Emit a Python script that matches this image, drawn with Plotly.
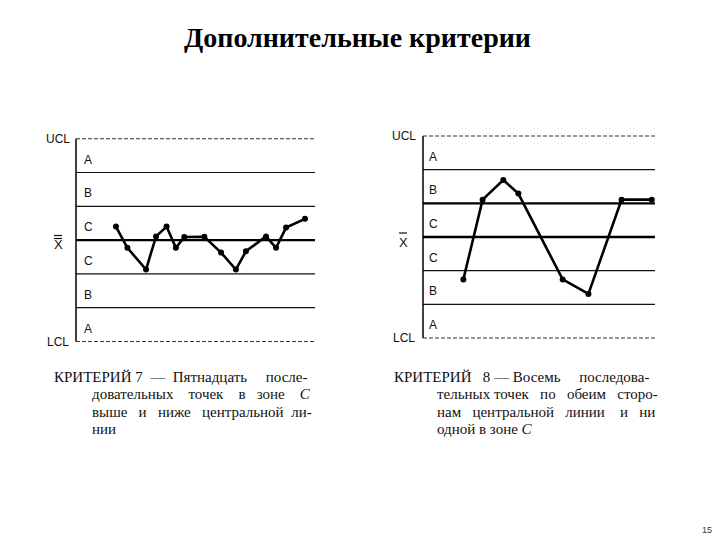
import plotly.graph_objects as go

# ---------------- data ----------------
zone_levels = [-3, -2, -1, 0, 1, 2, 3]          # LCL ... UCL in sigma units
zone_labels = ["A", "B", "C", "C", "B", "A"]     # bottom to top
zone_centers = [-2.5, -1.5, -0.5, 0.5, 1.5, 2.5]

left_x = [16.7, 21.5, 29.3, 33.5, 37.9, 41.8, 45.3, 53.7, 60.7, 66.9, 71.1, 79.5, 83.7, 87.9, 95.8]
left_y = [0.40, -0.23, -0.87, 0.11, 0.40, -0.23, 0.09, 0.10, -0.37, -0.87, -0.33, 0.11, -0.23, 0.37, 0.63]

right_x = [17.4, 25.7, 34.6, 41.1, 60.2, 71.3, 85.6, 98.6]
right_y = [-1.26, 1.11, 1.69, 1.29, -1.26, -1.69, 1.11, 1.11]

title_text = "Дополнительные критерии"
NB = "\u00a0"
left_caption = ["КРИТЕРИЙ 7" + NB + " — " + NB + "Пятнадцать " + NB * 4 + "после-",
                "довательных " + NB * 3 + "точек " + NB * 3 + "в " + NB * 2 + "зоне " + NB * 3 + "<i>C</i>",
                "выше " + NB * 2 + "и " + NB * 2 + "ниже " + NB * 2 + "центральной " + NB * 1 + "ли-",
                "нии"]
right_caption = ["КРИТЕРИЙ " + NB * 2 + "8 — Восемь " + NB * 4 + "последова-",
                 "тельных точек " + NB * 2 + "по " + NB * 2 + "обеим " + NB * 2 + "сторо-",
                 "нам " + NB * 2 + "центральной " + NB * 2 + "линии " + NB * 3 + "и " + NB * 2 + "ни",
                 "одной в зоне <i>C</i>"]
page_number = "15"

W, H = 720, 540


def px(x):
    return x / W


def py(y):
    return 1 - y / H


fig = go.Figure()

fig.add_trace(go.Scatter(x=left_x, y=left_y, mode="lines+markers",
                         line=dict(color="black", width=2.6),
                         marker=dict(color="black", size=6),
                         xaxis="x", yaxis="y", showlegend=False, hoverinfo="skip"))
fig.add_trace(go.Scatter(x=right_x, y=right_y, mode="lines+markers",
                         line=dict(color="black", width=2.6),
                         marker=dict(color="black", size=6),
                         xaxis="x2", yaxis="y2", showlegend=False, hoverinfo="skip"))

shapes = []
annotations = []

charts = [
    # axis suffix, x-domain (px), y=+3 px, y=-3 px, thick levels, label x, axis-name x,
    # centre symbol position (px) and bar positions
    ("", 76, 315, 138.7, 341.5, [0], 88, 58, (58, 244), [235.5, 238.5]),
    ("2", 423, 655, 136, 338, [0, 1], 433, 404, (403, 242), [233]),
]

ext = 3.2
for suf, xl, xr, ytop, ybot, thick, labx, namex, (sx, sy), bars in charts:
    unit = (ybot - ytop) / 6.0
    dom_top = py(ytop - (ext - 3) * unit)
    dom_bot = py(ybot + (ext - 3) * unit)
    xa = "xaxis" + suf
    ya = "yaxis" + suf
    fig.update_layout(**{
        xa: dict(domain=[px(xl), px(xr)], range=[0, 100], visible=False,
                 anchor="y" + suf),
        ya: dict(domain=[dom_bot, dom_top], range=[-ext, ext], visible=False,
                 anchor="x" + suf),
    })
    xref_d = "x" + suf + " domain"
    yref = "y" + suf
    # horizontal zone lines
    for lv in zone_levels:
        if abs(lv) == 3:
            line = dict(color="#333", width=1.1, dash="4px,2px")
        elif lv in thick:
            line = dict(color="black", width=2.4)
        else:
            line = dict(color="#111", width=1.2)
        shapes.append(dict(type="line", xref=xref_d, yref=yref, x0=0, x1=1,
                           y0=lv, y1=lv, line=line, layer="below"))
    # vertical axis line
    shapes.append(dict(type="line", xref=xref_d, yref=yref, x0=0, x1=0,
                       y0=-3, y1=3, line=dict(color="black", width=1.5)))
    # zone letters
    for lab, yc in zip(zone_labels, zone_centers):
        annotations.append(dict(text=lab, xref="paper", yref=yref, x=px(labx), y=yc,
                                xanchor="center", yanchor="middle", yshift=-4,
                                showarrow=False,
                                font=dict(family="Liberation Sans", size=12, color="#111")))
    # UCL / LCL
    annotations.append(dict(text="UCL", xref="paper", yref=yref, x=px(namex), y=3,
                            xanchor="center", yanchor="middle", showarrow=False,
                            font=dict(family="Liberation Sans", size=12, color="#111")))
    annotations.append(dict(text="LCL", xref="paper", yref=yref, x=px(namex), y=-3,
                            xanchor="center", yanchor="middle", showarrow=False,
                            font=dict(family="Liberation Sans", size=12, color="#111")))
    # centre-line symbol: X with bar(s)
    annotations.append(dict(text="X", xref="paper", yref="paper", x=px(sx), y=py(sy),
                            xanchor="center", yanchor="middle", showarrow=False,
                            font=dict(family="Liberation Sans", size=13, color="#111")))
    for b in bars:
        shapes.append(dict(type="line", xref="paper", yref="paper",
                           x0=px(sx - 4), x1=px(sx + 4), y0=py(b), y1=py(b),
                           line=dict(color="#111", width=1.2)))

# title
annotations.append(dict(text="<b>" + title_text + "</b>", xref="paper", yref="paper",
                        x=px(357), y=py(37), xanchor="center", yanchor="middle",
                        showarrow=False,
                        font=dict(family="Liberation Serif", size=28, color="black")))

# captions
line_y = [377, 394, 412, 429]
for cap, x1, x2 in [(left_caption, 52, 90), (right_caption, 392, 435)]:
    for i, (t, yy) in enumerate(zip(cap, line_y)):
        annotations.append(dict(text=t, xref="paper", yref="paper",
                                x=px(x1 if i == 0 else x2), y=py(yy),
                                xanchor="left", yanchor="middle", showarrow=False,
                                font=dict(family="Liberation Serif", size=15, color="#111")))

# page number
annotations.append(dict(text=page_number, xref="paper", yref="paper",
                        x=px(707), y=py(530), xanchor="center", yanchor="middle",
                        showarrow=False,
                        font=dict(family="Liberation Sans", size=9, color="#333")))

fig.update_layout(width=W, height=H, autosize=False,
                  margin=dict(l=0, r=0, t=0, b=0),
                  paper_bgcolor="white", plot_bgcolor="white",
                  shapes=shapes, annotations=annotations, showlegend=False)

fig.write_html("out.html", config={"displayModeBar": False},
               post_script="document.body.style.margin='0';")
